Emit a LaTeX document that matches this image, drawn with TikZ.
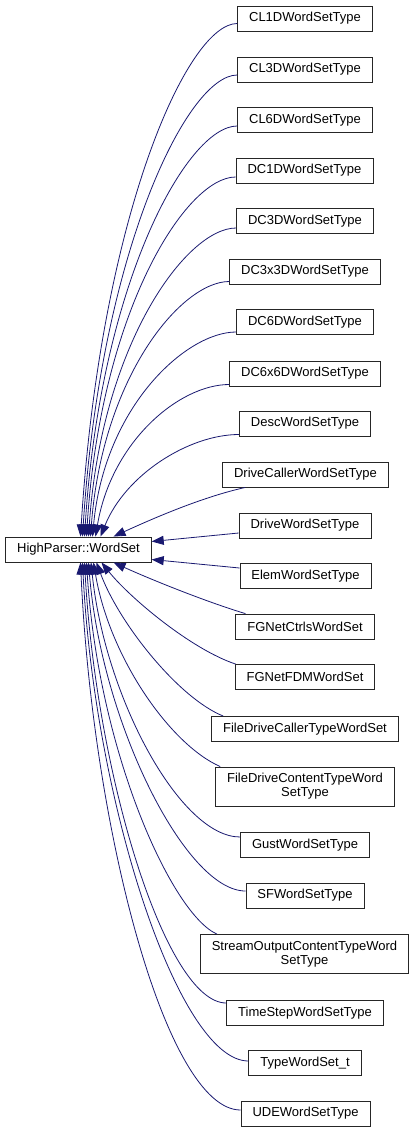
\documentclass[tikz,border=0pt]{standalone}
\usepackage{fontspec}
\setmainfont{Liberation Sans}
\usepackage{xcolor}
\usepackage{tikz}
\usetikzlibrary{arrows.meta}
\definecolor{ink}{HTML}{191970}
\definecolor{frame}{HTML}{262626}

\begin{document}
\begin{tikzpicture}[x=1pt,y=-1pt,
  cls/.style={draw=frame,fill=white,line width=0.8pt,inner xsep=11.5pt,
    inner ysep=6.5pt,minimum height=25pt,align=center,
    font=\fontsize{13}{14}\selectfont},
  inherit/.style={draw=ink,line width=0.8pt,-{Triangle[length=12pt,width=9pt]}}]
\useasboundingbox (0,0) rectangle (416,1133);
\node[cls] (wordset) at (78.5,549.5) {HighParser::WordSet};
\node[cls] (cl1d) at (305,18.5) {CL1DWordSetType};
\node[cls] (cl3d) at (305,69.5) {CL3DWordSetType};
\node[cls] (cl6d) at (305,120) {CL6DWordSetType};
\node[cls] (dc1d) at (304.5,170.5) {DC1DWordSetType};
\node[cls] (dc3d) at (305,221) {DC3DWordSetType};
\node[cls] (dc3x3d) at (305,271.5) {DC3x3DWordSetType};
\node[cls] (dc6d) at (305,322) {DC6DWordSetType};
\node[cls] (dc6x6d) at (305,373.5) {DC6x6DWordSetType};
\node[cls] (desc) at (305,423.5) {DescWordSetType};
\node[cls] (drivecaller) at (305.5,474.5) {DriveCallerWordSetType};
\node[cls] (drive) at (305,525.5) {DriveWordSetType};
\node[cls] (elem) at (305.5,576) {ElemWordSetType};
\node[cls] (fgctrls) at (305,626.5) {FGNetCtrlsWordSet};
\node[cls] (fgfdm) at (305,677) {FGNetFDMWordSet};
\node[cls] (filecaller) at (305,729) {FileDriveCallerTypeWordSet};
\node[cls] (filecontent) at (305,786.5) {FileDriveContentTypeWord\\SetType};
\node[cls] (gust) at (305,845) {GustWordSetType};
\node[cls] (sf) at (305,895.5) {SFWordSetType};
\node[cls] (streamout) at (304.5,954) {StreamOutputContentTypeWord\\SetType};
\node[cls] (timestep) at (305,1013) {TimeStepWordSetType};
\node[cls] (typews) at (305,1063) {TypeWordSet\_t};
\node[cls] (ude) at (305.5,1113.5) {UDEWordSetType};
\draw[inherit] ([yshift=-5]cl1d.west) .. controls +(-50,0) and +(20,-320) .. ([xshift=2]wordset.north);
\draw[inherit] ([yshift=-5.5]cl3d.west) .. controls +(-50,0) and +(18,-285) .. ([xshift=4]wordset.north);
\draw[inherit] ([yshift=-6]cl6d.west) .. controls +(-50,0) and +(16,-255) .. ([xshift=6]wordset.north);
\draw[inherit] ([yshift=-6.5]dc1d.west) .. controls +(-50,0) and +(14,-225) .. ([xshift=8]wordset.north);
\draw[inherit] ([yshift=-7]dc3d.west) .. controls +(-50,0) and +(13,-192) .. ([xshift=10]wordset.north);
\draw[inherit] ([yshift=-10]dc3x3d.west) .. controls +(-48,0) and +(12,-160) .. ([xshift=12]wordset.north);
\draw[inherit] ([yshift=-10]dc6d.west) .. controls +(-50,0) and +(12,-130) .. ([xshift=14]wordset.north);
\draw[inherit] ([yshift=-11]dc6x6d.west) .. controls +(-50,0) and +(16,-95) .. ([xshift=17]wordset.north);
\draw[inherit] ([yshift=-11]desc.west) .. controls +(-50,0) and +(25,-62) .. ([xshift=22]wordset.north);
\draw[inherit] ([xshift=23]drivecaller.south west) .. controls +(-45,10) and +(35,-16) .. ([xshift=35]wordset.north);
\draw[inherit] ([yshift=-7.5]drive.west) -- ([yshift=8]wordset.east);
\draw[inherit] ([yshift=8]elem.west) -- ([yshift=-10]wordset.east);
\draw[inherit] ([xshift=10]fgctrls.north west) .. controls +(-40,-12) and +(35,16) .. ([xshift=35]wordset.south);
\draw[inherit] ([xshift=1]fgfdm.north west) .. controls +(-45,-15) and +(28,35) .. ([xshift=23]wordset.south);
\draw[inherit] ([xshift=12]filecaller.north west) .. controls +(-45,-18) and +(22,60) .. ([xshift=18]wordset.south);
\draw[inherit] ([xshift=5]filecontent.north west) .. controls +(-50,-22) and +(16,95) .. ([xshift=15]wordset.south);
\draw[inherit] ([yshift=8]gust.west) .. controls +(-60,0) and +(14,135) .. ([xshift=12.5]wordset.south);
\draw[inherit] ([yshift=4.5]sf.west) .. controls +(-60,0) and +(13,160) .. ([xshift=10]wordset.south);
\draw[inherit] ([xshift=17]streamout.north west) .. controls +(-45,-20) and +(12,190) .. ([xshift=8]wordset.south);
\draw[inherit] ([yshift=10]timestep.west) .. controls +(-60,0) and +(12,215) .. ([xshift=6]wordset.south);
\draw[inherit] ([yshift=2]typews.west) .. controls +(-70,0) and +(12,240) .. ([xshift=4]wordset.south);
\draw[inherit] ([yshift=3.5]ude.west) .. controls +(-75,0) and +(12,265) .. ([xshift=2]wordset.south);
\end{tikzpicture}
\end{document}
